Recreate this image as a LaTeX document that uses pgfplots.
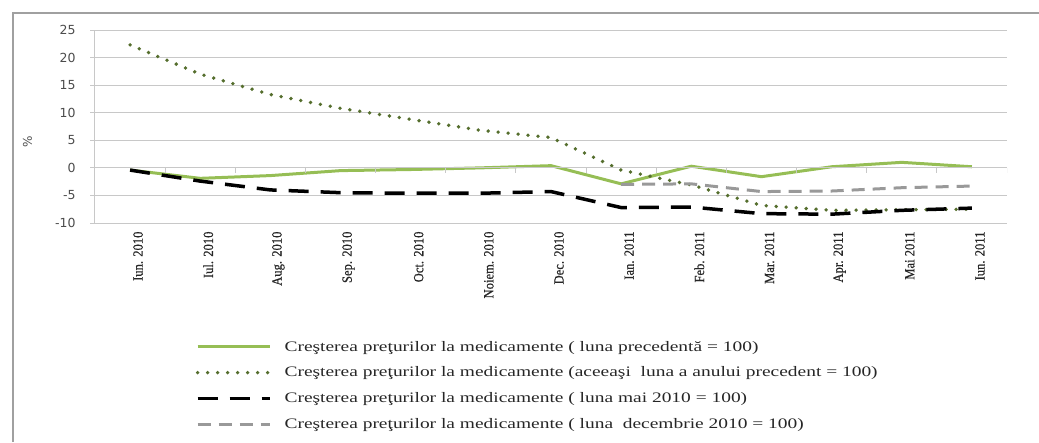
\documentclass[border=0pt]{standalone}
\usepackage{pgfplots}
\pgfplotsset{compat=1.18}
\usepackage{fontspec}
\setmainfont{Liberation Serif}
\newfontfamily\tickfont{DejaVu Sans}
\newfontfamily\legfont[FakeStretch=1.34]{Liberation Serif}
\newfontfamily\xlabfont[FakeStretch=0.9, FakeBold=0.6]{Liberation Serif}
\definecolor{solgreen}{RGB}{150,190,85}
\definecolor{dotgreen}{RGB}{85,110,45}
\definecolor{gridgray}{RGB}{200,200,200}
\definecolor{framegray}{RGB}{160,160,160}

\pgfplotstableread{
m   prev   yoy    mai    dec
0   -0.4   22.3   -0.4   nan
1   -1.9   17.0   -2.4   nan
2   -1.4   13.3   -4.0   nan
3   -0.5   10.8   -4.5   nan
4   -0.3    8.8   -4.6   nan
5    0.0    6.8   -4.6   nan
6    0.4    5.5   -4.3   nan
7   -2.9   -0.4   -7.2   -3.0
8    0.3   -3.1   -7.1   -2.9
9   -1.6   -6.8   -8.3   -4.3
10   0.2   -7.7   -8.4   -4.2
11   1.0   -7.6   -7.7   -3.6
12   0.2   -7.5   -7.3   -3.3
}\medtable

\begin{document}
\begin{tikzpicture}
\path[use as bounding box] (0pt,0pt) rectangle (1039pt,-442pt);
\draw[framegray, line width=2.5pt] (13pt,-442pt) -- (13pt,-13pt) -- (1039pt,-13pt);
\begin{axis}[
  at={(95pt,-223pt)}, anchor=south west,
  scale only axis, width=912pt, height=193pt,
  xmin=-0.5, xmax=12.5, ymin=-10, ymax=25,
  ytick={-10,-5,...,25},
  xtick={0,...,12},
  xticklabels={Iun. 2010,Iul. 2010,Aug. 2010,Sep. 2010,Oct. 2010,Noiem. 2010,Dec. 2010,Ian. 2011,Feb. 2011,Mar. 2011,Apr. 2011,Mai 2011,Iun. 2011},
  xticklabel style={rotate=90, anchor=east, font=\xlabfont\fontsize{14}{15}\selectfont, text=black!85, yshift=-8pt},
  yticklabel style={font=\tickfont\fontsize{12.5}{14}\selectfont, text=black!70, xshift=-11pt},
  /pgf/number format/assume math mode=true,
  axis x line*=bottom, axis y line*=left,
  axis line style={draw=gridgray, line width=1pt},
  x tick style={draw=none},
  y tick style={draw=gridgray, line width=1pt},
  tick align=outside, major tick length=5pt,
  ymajorgrids, grid style={draw=gridgray, line width=1pt},
  ylabel={\%}, ylabel style={font=\tickfont\fontsize{12}{14}\selectfont, text=black!70, at={(axis description cs:-0.074,0.42)}, anchor=center},
  legend style={at={(axis description cs:0.107,-0.59)}, anchor=north west, draw=none, fill=none,
    font=\legfont\fontsize{14.5}{16}\selectfont, text=black!85, row sep=10.2pt,
    /tikz/every odd column/.append style={column sep=11pt}},
  legend cell align=left,
  legend image code/.code={\draw[#1] (0pt,0pt) -- (72pt,0pt);},
]
  \addplot[solgreen, line width=3pt, line join=round] table[x=m, y=prev] {\medtable};
  \addlegendentry{Creşterea preţurilor la medicamente ( luna precedentă = 100)}
  \addplot[dotgreen, line width=3.8pt, line cap=round, dash pattern=on 0pt off 10pt] table[x=m, y=yoy] {\medtable};
  \addlegendentry{Creşterea preţurilor la medicamente (aceeaşi\ \ luna a anului precedent = 100)}
  \addplot[black, line width=3.5pt, dash pattern=on 20pt off 12pt] table[x=m, y=mai] {\medtable};
  \addlegendentry{Creşterea preţurilor la medicamente ( luna mai 2010 = 100)}
  \addplot[black!40, line width=3pt, dash pattern=on 13pt off 8pt, unbounded coords=jump] table[x=m, y=dec] {\medtable};
  \addlegendentry{Creşterea preţurilor la medicamente ( luna\ \ decembrie 2010 = 100)}
  \draw[gridgray, line width=1pt] (axis cs:-0.5,0) -- (axis cs:12.5,0);
  \pgfplotsinvokeforeach{0.5,1.5,2.5,3.5,4.5,5.5,6.5,7.5,8.5,9.5,10.5,11.5,12.5}{
    \draw[gridgray, line width=1pt] (axis cs:#1,0) -- ++(0pt,-5pt);
  }
\end{axis}
\end{tikzpicture}
\end{document}
